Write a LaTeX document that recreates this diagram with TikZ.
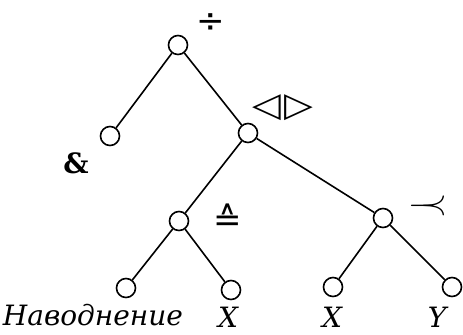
\documentclass[tikz,border=0pt]{standalone}
\usepackage{fontspec}
\setmainfont{DejaVu Serif}
\newfontfamily\symfont{DejaVu Sans}
\begin{document}
\begin{tikzpicture}
[x=0.5pt,y=-0.5pt,
  lineDecorate/.style={-,line width=0.8pt},%
  nodeDecorate/.style={shape=circle,inner sep=0pt,minimum size=9.5pt,draw,line width=0.8pt},
  opDecorate/.style={inner sep=0pt,font=\fontsize{17}{18}\selectfont\symfont},
  leafDecorate/.style={inner sep=0pt,font=\fontsize{14}{16}\selectfont\itshape}]
\useasboundingbox (0,0) rectangle (463,334);
%% nodes or vertices
\foreach \nodename/\x/\y in {
  top/178/45, amp/110/136, join/248/133, est/179/221, prec/383/218,
  flood/126/288, xa/231/290, xb/333/287, yb/452/287}
{
  \node (\nodename) at (\x,\y) [nodeDecorate] {};
}
%% operation signs
\node (Ltop) at (211,23) [opDecorate] {÷};
\node (Ljoin) at (283,108) [opDecorate] {\scalebox{1.1}[1]{◁\kern1.2pt▷}};
\node (Lamp) at (76,163) [opDecorate,font=\fontsize{14}{16}\selectfont\bfseries] {\&};
\node (Lest) at (228,218) [opDecorate] {≙};
\node (Lprec) at (428,206) [opDecorate,font=\fontsize{16}{18}\selectfont] {$-\mkern-13mu\prec$};
%% leaf names
\node (Lflood) at (93,315) [leafDecorate] {Наводнение};
\node (Lxa) at (228,317) [leafDecorate] {X};
\node (Lxb) at (332,317) [leafDecorate] {X};
\node (Lyb) at (437,317) [leafDecorate] {Y};
%% edges or lines
\path
\foreach \startnode/\endnode in {top/amp, top/join, join/est, join/prec,
  est/flood, est/xa, prec/xb, prec/yb}
{
  (\startnode) edge[lineDecorate] (\endnode)
};
\end{tikzpicture}
\end{document}
